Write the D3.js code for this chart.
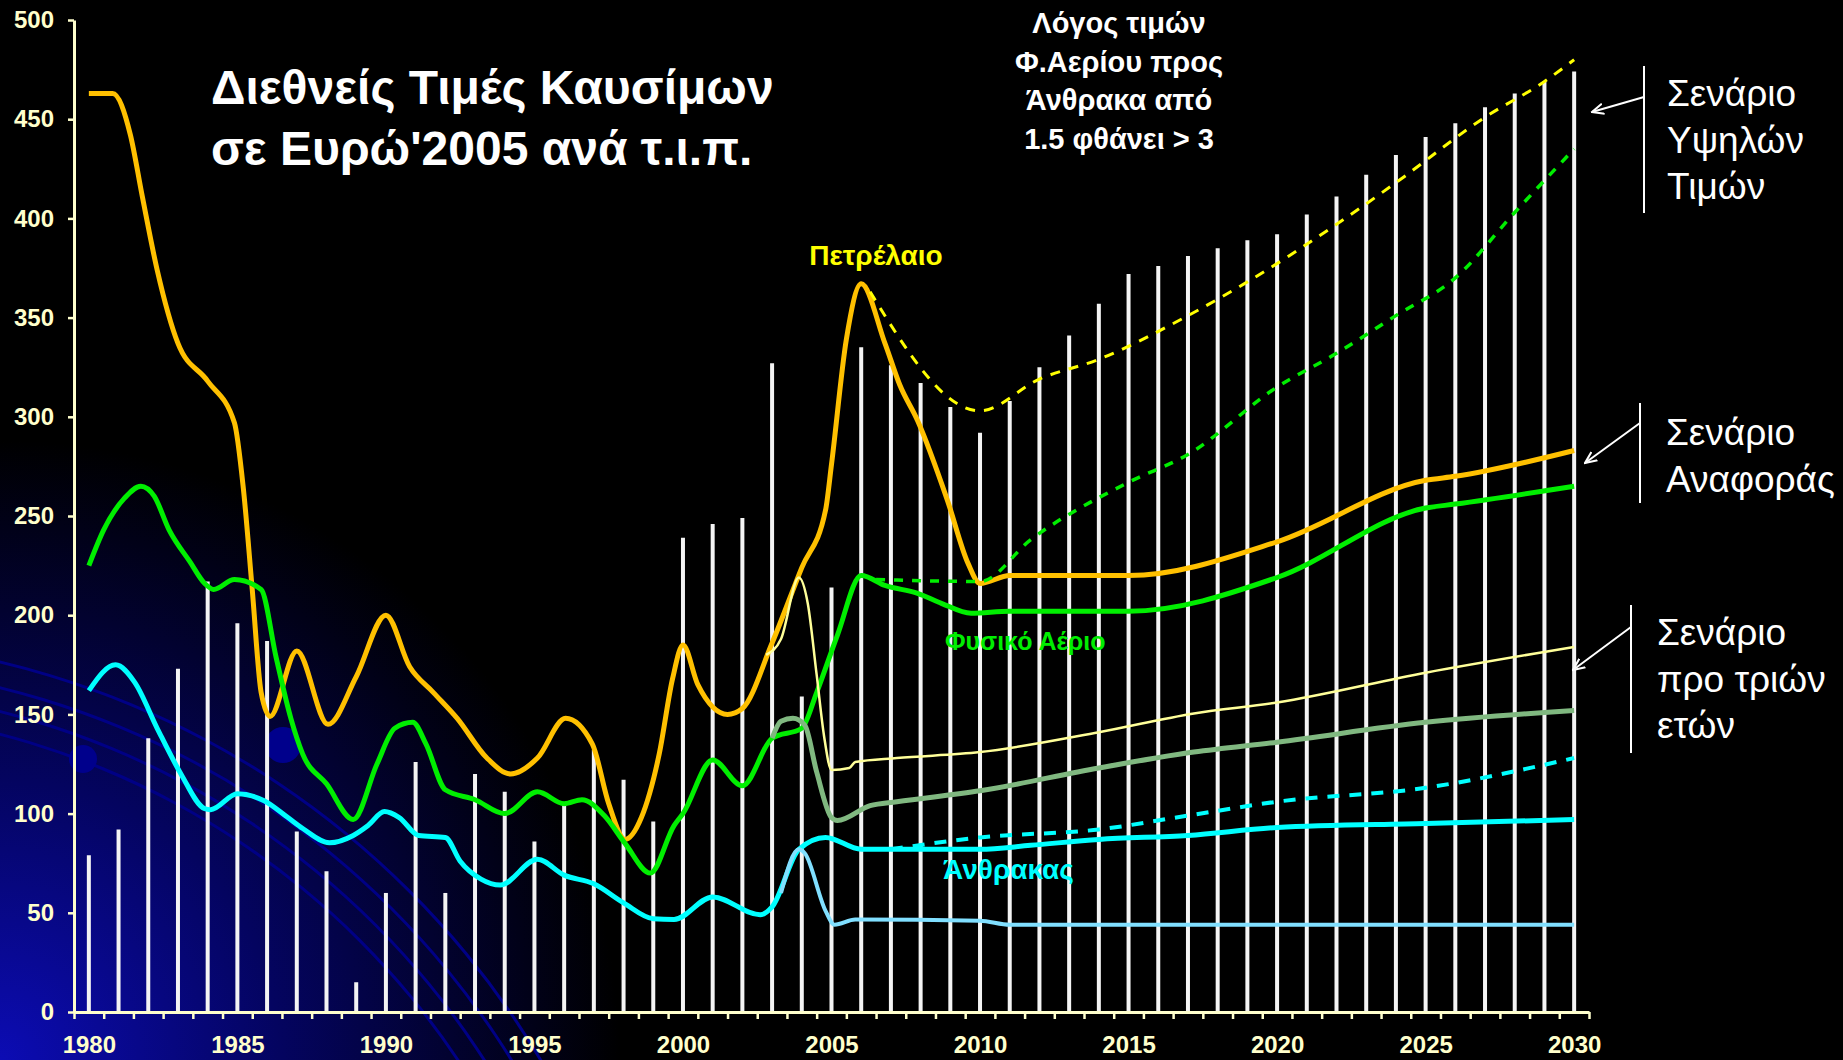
<!DOCTYPE html>
<html>
<head>
<meta charset="utf-8">
<script src="https://cdn.jsdelivr.net/npm/d3@7"></script>
<style>
body{margin:0;background:#000;overflow:hidden;}
svg{display:block;}
</style>
</head>
<body>
<svg id="chart" width="1843" height="1060"></svg>
<script>
// ---- data ----
var years = d3.range(1980, 2031);
var barValues = [79,92,138,173,217,196,187,91,71,15,60,126,60,120,111,86,105,132,117,96,
    239,246,249,327,159,214,335,326,317,305,292,308,325,341,357,372,376,381,385,389,
    392,402,411,422,432,441,448,456,463,469,474];
var yTicks = d3.range(0, 501, 50);
var xLabels = [1980,1985,1990,1995,2000,2005,2010,2015,2020,2025,2030];

// history + reference scenario  [year, value]
var oil = [[1980,463],[1980.8,463],[1981.4,442],[1981.8,411],[1982.3,374],[1983,337],[1984,318],
    [1984.9,297],[1985.2,264],[1985.5,213],[1985.8,161],[1986.1,149],[1987,182],[1988.05,145],
    [1989,169],[1990,200],[1990.8,174],[1991.6,161],[1992.4,148],[1993.4,128],[1994.2,120],
    [1995.1,128],[1996.05,148],[1996.95,135],[1997.5,105],[1998.05,87],[1998.6,98],[1999.2,130],
    [1999.65,168],[2000,185],[2000.5,165],[2001.5,150],[2002,153],[2003,186],[2004,224],
    [2004.8,253],[2005,276],[2005.5,339],[2006,367],[2006.8,337],[2007.3,316],[2007.9,298],
    [2008.9,258],[2009.6,226],[2010,216],[2011,220],[2015,220],[2020,237],[2025,268],[2026,270],[2030,283]];
var gas = [[1980,225],[1980.5,243],[1981.2,259],[1981.75,265],[1982.2,260],[1982.7,243],[1983.4,227],
    [1983.9,216],[1984.2,213],[1984.9,218],[1985.8,213],[1986.3,179],[1986.8,148],[1987.2,130],
    [1988,115],[1988.9,97],[1989.7,125],[1990.3,143],[1990.9,146],[1991.35,135],[1992,112],
    [1993,107],[1994,100],[1995.1,111],[1996,105],[1996.6,107],[1997.35,99],[1998.05,85],
    [1998.9,70],[1999.7,94],[2000,100],[2001,127],[2002,114],[2003,138],[2004,143],[2004.5,161],
    [2005.2,190],[2006,220],[2006.8,215],[2007.9,211],[2008.7,206],[2009.7,201],[2011,202],
    [2015,202],[2020,219],[2025,254],[2026,256],[2030,265]];
var coal = [[1980,162],[1980.9,175],[1981.55,166],[1982.3,143],[1983.1,120],[1983.9,102.5],[1984.1,102],
    [1985,110],[1985.9,106.5],[1986.7,98],[1987.2,92.5],[1988.1,85.3],[1988.9,89],[1989.4,94],
    [1989.95,101],[1990.45,98],[1991.1,89],[1992,88],[1992.5,76],[1993.2,67],[1993.85,64],
    [1995.1,77],[1996,69],[1997,64.6],[1998,55],[1999,47],[1999.7,46.6],[2001,58],[2002.6,49],
    [2003,53],[2003.9,82],[2004.8,88],[2006,82],[2010,82],[2011.7,84],[2014,87],[2017,89],
    [2020,93],[2025,95],[2030,97]];

// high price scenario
var oilHigh = [[2006.3,363],[2010,303],[2012,319],[2014,329],[2017,351],[2019,368],[2022,397],
    [2024,418],[2027,451],[2029,469],[2030,480]];
var gasHigh = [[2006.5,218],[2010,217],[2011.7,238],[2015,267],[2017,281],[2020,315],[2022,332],
    [2024,351],[2026,370],[2028,403],[2030,435]];
var coalHigh = [[2007,82],[2010,88],[2014,92],[2017,99],[2020,106],[2025,113],[2030,128]];

// scenario of three years ago
var oilOld = [[2002.8,180],[2003.3,188],[2003.9,219],[2004.2,206],[2004.5,170],[2004.75,139],[2005,122],
    [2005.6,123],[2005.8,126],[2007.2,128],[2010,131],[2014,141],[2017.2,150.5],[2020,156],[2025,171],[2030,184]];
var gasOld = [[2003,138],[2003.3,146.6],[2003.7,148],[2004.1,144.6],[2004.5,121],[2005,98],[2005.2,96.5],
    [2006.3,104],[2007.2,106],[2010,111.5],[2014,123],[2017.2,131],[2020,136],[2025,146],[2030,152]];
var coalOld = [[2003.3,60],[2003.9,82],[2004.1,80],[2004.8,51],[2005.1,44],[2005.8,46.6],[2010,46],
    [2011,44],[2030,44]];

var svg = d3.select("#chart");
var axisColor = "#ffffcc";
var font = "'Liberation Sans', Arial, sans-serif";

// ---- background: black with blue glow and arcs in bottom left ----
var defs = svg.append("defs");
var glow = defs.append("radialGradient").attr("id", "glow")
    .attr("gradientUnits", "userSpaceOnUse")
    .attr("cx", 0).attr("cy", 1060).attr("r", 620);
glow.append("stop").attr("offset", "0%").attr("stop-color", "#0c0cb4");
glow.append("stop").attr("offset", "45%").attr("stop-color", "#040460");
glow.append("stop").attr("offset", "100%").attr("stop-color", "#000000");

defs.append("marker").attr("id", "arr")
    .attr("viewBox", "0 0 10 10").attr("refX", 9).attr("refY", 5)
    .attr("markerUnits", "userSpaceOnUse")
    .attr("markerWidth", 13).attr("markerHeight", 13)
    .attr("orient", "auto")
  .append("path").attr("d", "M0,1 L9,5 L0,9")
    .attr("fill", "none").attr("stroke", "#fff").attr("stroke-width", 1.6);

svg.append("rect").attr("width", 1843).attr("height", 1060).attr("fill", "#000");
svg.append("rect").attr("width", 1843).attr("height", 1060).attr("fill", "url(#glow)");

var arcs = svg.append("g").attr("transform", "translate(-200,1500)");
[790, 812, 835, 860].forEach(function(r){
    arcs.append("path")
        .attr("d", d3.arc().innerRadius(r).outerRadius(r + 3).startAngle(0).endAngle(Math.PI / 2)())
        .attr("fill", "#000085");
});
svg.append("circle").attr("cx", 83).attr("cy", 759).attr("r", 14).attr("fill", "#00008c");
svg.append("circle").attr("cx", 283).attr("cy", 745).attr("r", 18).attr("fill", "#00008c");

// ---- scales ----
var x = d3.scaleBand().domain(years).range([74, 1589]).padding(0);
var xLin = d3.scaleLinear().domain([1980, 2030])
    .range([74 + x.bandwidth() / 2, 1589 - x.bandwidth() / 2]);
var xEdge = d3.scaleLinear().domain([1979.5, 2030.5]).range([74, 1589]);
var y = d3.scaleLinear().domain([0, 500]).range([1012, 20]);

// ---- bars (thin white lines) ----
svg.append("g").selectAll("line")
    .data(years)
    .enter().append("line")
    .attr("x1", function(d){ return x(d) + x.bandwidth() / 2; })
    .attr("x2", function(d){ return x(d) + x.bandwidth() / 2; })
    .attr("y1", y(0))
    .attr("y2", function(d, i){ return y(barValues[i]); })
    .attr("stroke", "#f4f4f4")
    .attr("stroke-width", 4);

// ---- lines ----
var line = d3.line()
    .x(function(d){ return xLin(d[0]); })
    .y(function(d){ return y(d[1]); })
    .curve(d3.curveMonotoneX);

function draw(data, color, width, dash){
    svg.append("path")
        .datum(data)
        .attr("d", line)
        .style("fill", "none")
        .style("stroke", color)
        .style("stroke-width", width + "px")
        .style("stroke-linejoin", "round")
        .style("stroke-dasharray", dash || null);
}

draw(oil, "#ffc000", 5);
draw(gas, "#00ee00", 5);
draw(coal, "#00ffff", 5);
draw(oilOld, "#ffff99", 2.5);
draw(gasOld, "#80b880", 5);
draw(coalOld, "#80dfff", 4);
draw(oilHigh, "#ffff00", 3, "10,9");
draw(gasHigh, "#00ee00", 3.5, "9,9");
draw(coalHigh, "#00ffff", 4, "12,10");

// ---- axes ----
var yAxis = svg.append("g")
    .attr("transform", "translate(74,0)")
    .call(d3.axisLeft(y).tickValues(yTicks).tickSize(6).tickSizeOuter(0).tickPadding(14));

var xTicks = svg.append("g")
    .attr("transform", "translate(0,1012)")
    .call(d3.axisBottom(xEdge).tickValues(d3.range(1979.5, 2031, 1)).tickSize(7).tickSizeOuter(0).tickFormat(""));

var xAxis = svg.append("g")
    .attr("transform", "translate(0,1012)")
    .call(d3.axisBottom(xLin).tickValues(xLabels).tickSize(0).tickFormat(d3.format("d")));
xAxis.select(".domain").remove();
xAxis.selectAll("text").attr("y", 41).attr("dy", null);

[yAxis, xTicks].forEach(function(g){
    g.select(".domain").attr("stroke", axisColor).attr("stroke-width", 3);
    g.selectAll(".tick line").attr("stroke", axisColor).attr("stroke-width", 2.5);
});
[yAxis, xAxis].forEach(function(g){
    g.selectAll("text")
        .attr("fill", axisColor)
        .style("font-family", font)
        .style("font-weight", "bold")
        .style("font-size", "24px");
});

// ---- texts ----
var title = svg.append("text")
    .attr("fill", "#fff")
    .style("font-family", font).style("font-weight", "bold").style("font-size", "48px");
title.append("tspan").attr("x", 211).attr("y", 104).text("Διεθνείς Τιμές Καυσίμων");
title.append("tspan").attr("x", 211).attr("y", 165).text("σε Ευρώ'2005 ανά τ.ι.π.");

var note = svg.append("text")
    .attr("fill", "#fff").attr("text-anchor", "middle")
    .style("font-family", font).style("font-weight", "bold").style("font-size", "29px");
["Λόγος τιμών", "Φ.Αερίου προς", "Άνθρακα από", "1.5 φθάνει > 3"].forEach(function(t, i){
    note.append("tspan").attr("x", 1119).attr("y", 33 + i * 38.5).text(t);
});

function label(txt, xx, yy, color, size, anchor){
    svg.append("text")
        .attr("x", xx).attr("y", yy)
        .attr("fill", color)
        .attr("text-anchor", anchor || "start")
        .style("font-family", font).style("font-weight", "bold").style("font-size", size + "px")
        .text(txt);
}
label("Πετρέλαιο", 876, 265, "#ffff00", 28, "middle");
label("Φυσικό Αέριο", 945, 650, "#00ee00", 25);
label("Άνθρακας", 943, 879, "#00ffff", 28);

// scenario notes on the right
var scenarios = [
    {lines: ["Σενάριο", "Υψηλών", "Τιμών"], tx: 1667, ty: 106, bx: 1644, b1: 66, b2: 213, ay: 97, ax2: 1592, ay2: 112},
    {lines: ["Σενάριο", "Αναφοράς"], tx: 1666, ty: 445, bx: 1640, b1: 403, b2: 503, ay: 423, ax2: 1585, ay2: 463},
    {lines: ["Σενάριο", "προ τριών", "ετών"], tx: 1657, ty: 645, bx: 1631, b1: 605, b2: 753, ay: 627, ax2: 1573, ay2: 670}
];
scenarios.forEach(function(s){
    var t = svg.append("text").attr("fill", "#fff")
        .style("font-family", font).style("font-size", "37px");
    s.lines.forEach(function(l, i){
        t.append("tspan").attr("x", s.tx).attr("y", s.ty + i * 46.5).text(l);
    });
    svg.append("line").attr("x1", s.bx).attr("x2", s.bx).attr("y1", s.b1).attr("y2", s.b2)
        .attr("stroke", "#fff").attr("stroke-width", 2);
    svg.append("line").attr("x1", s.bx).attr("y1", s.ay).attr("x2", s.ax2).attr("y2", s.ay2)
        .attr("stroke", "#fff").attr("stroke-width", 2).attr("marker-end", "url(#arr)");
});
</script>
</body>
</html>
